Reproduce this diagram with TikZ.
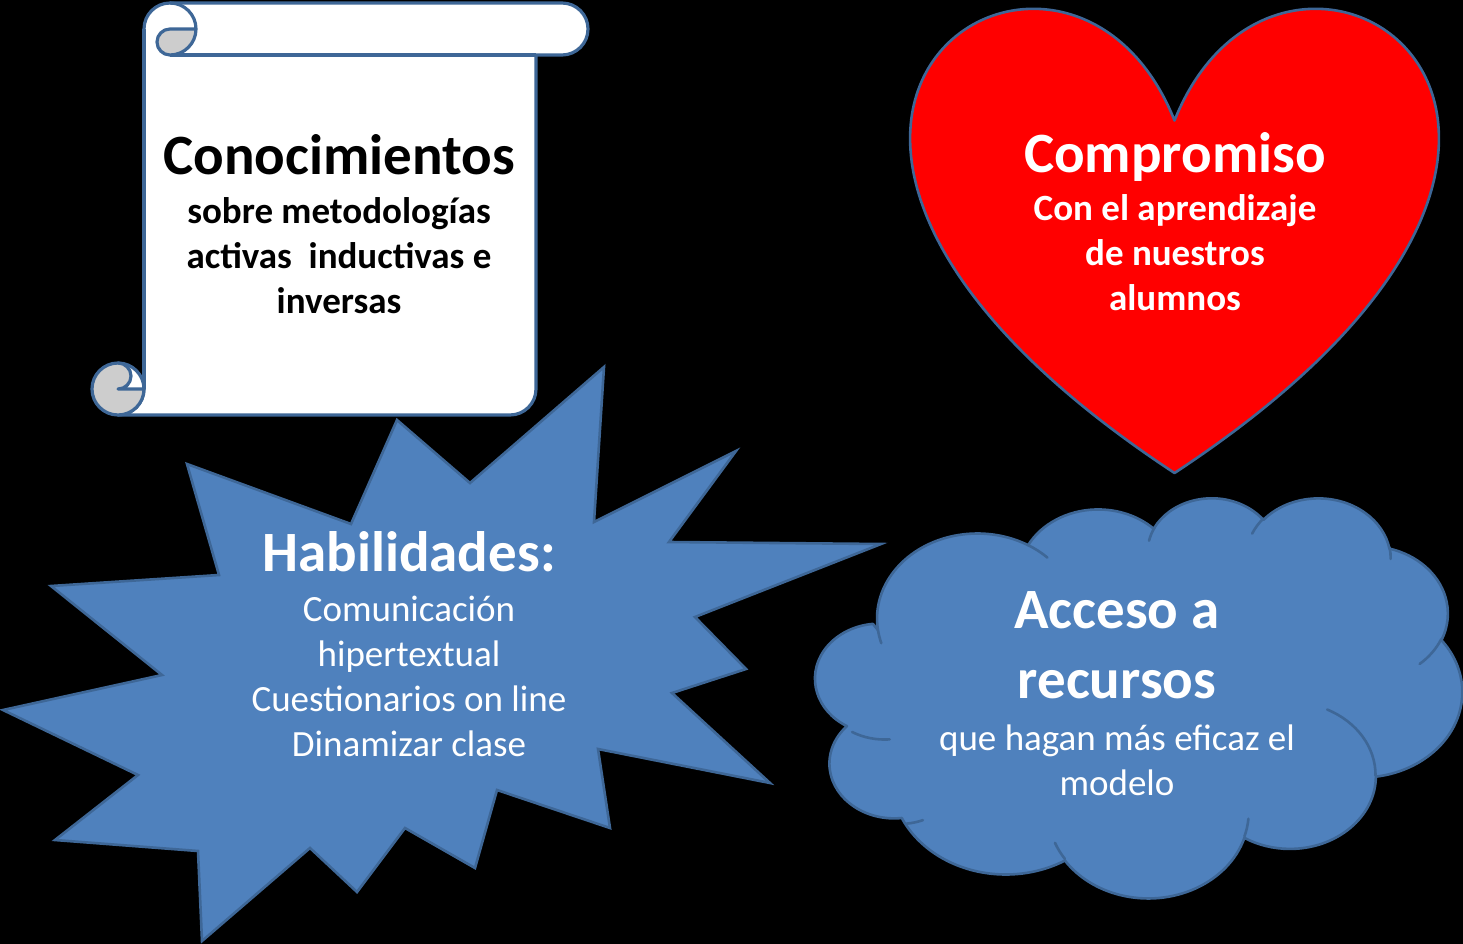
\documentclass[tikz,border=0pt]{standalone}
\usepackage{fontspec}
\setmainfont{Carlito}
\definecolor{edgeblue}{HTML}{3E6797}
\definecolor{sealblue}{HTML}{4F81BD}
\definecolor{curlgrey}{HTML}{CDCDCD}
\definecolor{heartred}{HTML}{FF0000}
\newcommand\cldcalc[5]{%
  \pgfmathsetmacro\cldTmpA{atan2((#2)*sin(#4),(#3)*cos(#4))}%
  \pgfmathsetmacro\cldTmpB{atan2((#2)*sin((#4)+(#5)),(#3)*cos((#4)+(#5)))}%
  \pgfmathsetmacro\cldTmpD{\cldTmpB-\cldTmpA}%
  \pgfmathsetmacro\cldTmpD{\cldTmpD+360*(\cldTmpD<0)}%
  \expandafter\xdef\csname cld#1s\endcsname{\cldTmpA}%
  \expandafter\xdef\csname cld#1d\endcsname{\cldTmpD}%
}
\begin{document}
\begin{tikzpicture}[x=1pt,y=-1pt,
  scrollst/.style={fill=white, draw=edgeblue, line width=3.2pt, line join=round},
  scrollln/.style={draw=edgeblue, line width=3.2pt, line join=round},
  heartst/.style={fill=heartred, draw=edgeblue, line width=2.6pt, line join=round},
  sealst/.style={fill=sealblue, draw=edgeblue, line width=2.6pt, line join=miter},
  cloudst/.style={fill=sealblue, draw=edgeblue, line width=2.6pt, line join=round},
  cloudln/.style={draw=edgeblue, line width=2.6pt, line cap=round},
  hdr/.style={anchor=base, inner sep=0pt, font=\fontsize{57}{68}\selectfont\bfseries},
  subb/.style={anchor=base, inner sep=0pt, font=\fontsize{37}{45}\selectfont\bfseries},
  subr/.style={anchor=base, inner sep=0pt, font=\fontsize{37}{45}\selectfont}]
\fill[black] (0,0) rectangle (1463,944);
\useasboundingbox (0,0) rectangle (1463,944);

% ---------------- scroll ----------------
\path[scrollst] (144,389) -- (144,29) arc[start angle=180,end angle=270,radius=26]
  -- (562,3) arc[start angle=270,end angle=450,radius=26] -- (536,55) -- (536,389)
  arc[start angle=0,end angle=90,radius=26] -- (118,415)
  arc[start angle=90,end angle=0,radius=26] -- cycle;
\draw[scrollln] (170,55) -- (536,55);
% top-left curl
\fill[curlgrey] (196,29) arc[start angle=0,end angle=90,radius=26]
  arc[start angle=90,end angle=270,radius=13] -- cycle;
\draw[scrollln] (170,3) arc[start angle=270,end angle=450,radius=26]
  arc[start angle=90,end angle=270,radius=13] -- (196,29);
% bottom-left curl
\fill[curlgrey] (118,389) circle[radius=26];
\fill[white] (118,389) -- (118,363) arc[start angle=270,end angle=360,radius=26] -- cycle;
\fill[curlgrey] (118,363) arc[start angle=270,end angle=450,radius=13] -- cycle;
\draw[scrollln] (118,389) circle[radius=26];
\draw[scrollln] (118,363) arc[start angle=270,end angle=450,radius=13] -- (144,389);
\draw[scrollln] (144,29) -- (144,389);

\node[hdr, text=black] (s1) at (339,175) {Conocimientos};
\node[subb, text=black] (s2) at (339,223) {sobre metodologías};
\node[subb, text=black] (s3) at (339,268) {activas\ \ inductivas e};
\node[subb, text=black] (s4) at (339,313) {inversas};

% ---------------- heart ----------------
\path[heartst] (1174.5,120.5) .. controls (1283.9,-153.7) and (1710.4,120.5) .. (1174.5,473)
  .. controls (638.6,120.5) and (1065.1,-153.7) .. (1174.5,120.5) -- cycle;
\node[hdr, text=white] (h1) at (1175,172) {Compromiso};
\node[subb, text=white] (h2) at (1175,220) {Con el aprendizaje};
\node[subb, text=white] (h3) at (1175,265) {de nuestros};
\node[subb, text=white] (h4) at (1175,310) {alumnos};

% ---------------- explosion ----------------
\path[sealst] (604,367) -- (594,522) -- (736,451) -- (669,542) -- (881,544) -- (695,617)
  -- (746,669) -- (672,693) -- (770,783) -- (598,749) -- (610,828) -- (497,790)
  -- (475,868) -- (405,828) -- (357,892) -- (310,848) -- (202,941) -- (198,851)
  -- (55,840) -- (138,775) -- (3,710) -- (162,675) -- (51,586) -- (219,575)
  -- (187,464) -- (351,524) -- (397,420) -- (470,483) -- cycle;
\node[hdr, text=white] (e1) at (409,571) {Habilidades:};
\node[subr, text=white] (e2) at (409,621) {Comunicación};
\node[subr, text=white] (e3) at (409,666) {hipertextual};
\node[subr, text=white] (e4) at (409,711) {Cuestionarios on line};
\node[subr, text=white] (e5) at (409,756) {Dinamizar clase};

% ---------------- cloud ----------------
\cldcalc{A}{67.53}{91.90}{-190.48748}{123.78053}
\cldcalc{B}{53.33}{72.67}{-144.10238}{89.94523}
\cldcalc{C}{43.65}{59.45}{-145.80792}{99.72302}
\cldcalc{D}{48.57}{65.95}{-130.98607}{117.24173}
\cldcalc{E}{53.33}{72.73}{-78.70888}{109.02692}
\cldcalc{F}{67.75}{92.20}{-46.26725}{130.269}
\cldcalc{G}{57.85}{78.67}{0.62502}{114.03333}
\cldcalc{H}{67.52}{92.15}{22.4516}{115.17255}
\cldcalc{I}{77.20}{105.43}{66.24263}{81.37443}
\cldcalc{J}{43.60}{59.18}{-274.94208}{146.73557}
\cldcalc{K}{43.45}{59.45}{-246.8285}{152.51885}
\cldcalc{a}{43.45}{59.45}{86.742}{26.4295}
\cldcalc{b}{43.60}{59.18}{73.61047}{11.44747}
\cldcalc{c}{67.52}{92.15}{137.62415}{14.0811}
\cldcalc{d}{67.52}{92.15}{6.45327}{15.99835}
\cldcalc{e}{57.85}{78.67}{-70.29235}{70.91737}
\cldcalc{f}{53.33}{72.73}{30.31803}{27.7515}
\cldcalc{g}{48.57}{65.95}{-13.74433}{14.8589}
\cldcalc{h}{48.57}{65.95}{-149.18145}{18.19537}
\cldcalc{i}{43.65}{59.45}{-163.49427}{17.68635}
\cldcalc{j}{67.53}{91.90}{-66.70695}{12.31935}
\cldcalc{k}{67.53}{91.90}{157.65435}{11.85817}
\begin{scope}[shift={(820pt,-497pt)}, x=1.48611pt, y=-0.925926pt]
\path[cloudst] (39.00,143.70)
  arc[start angle=\cldAs, delta angle=\cldAd, x radius=67.53, y radius=91.90]
  arc[start angle=\cldBs, delta angle=\cldBd, x radius=53.33, y radius=72.67]
  arc[start angle=\cldCs, delta angle=\cldCd, x radius=43.65, y radius=59.45]
  arc[start angle=\cldDs, delta angle=\cldDd, x radius=48.57, y radius=65.95]
  arc[start angle=\cldEs, delta angle=\cldEd, x radius=53.33, y radius=72.73]
  arc[start angle=\cldFs, delta angle=\cldFd, x radius=67.75, y radius=92.20]
  arc[start angle=\cldGs, delta angle=\cldGd, x radius=57.85, y radius=78.67]
  arc[start angle=\cldHs, delta angle=\cldHd, x radius=67.52, y radius=92.15]
  arc[start angle=\cldIs, delta angle=\cldId, x radius=77.20, y radius=105.43]
  arc[start angle=\cldJs, delta angle=\cldJd, x radius=43.60, y radius=59.18]
  arc[start angle=\cldKs, delta angle=\cldKd, x radius=43.45, y radius=59.45]
  -- cycle;
\draw[cloudln]
  (46.93,261.77) arc[start angle=\cldas, delta angle=\cldad, x radius=43.45, y radius=59.45]
  (69.28,348.99) arc[start angle=\cldbs, delta angle=\cldbd, x radius=43.60, y radius=59.18]
  (164.78,390.90) arc[start angle=\cldcs, delta angle=\cldcd, x radius=67.52, y radius=92.15]
  (288.27,347.51) arc[start angle=\cldds, delta angle=\clddd, x radius=67.52, y radius=92.15]
  (341.29,229.54) arc[start angle=\cldes, delta angle=\clded, x radius=57.85, y radius=78.67]
  (417.98,153.54) arc[start angle=\cldfs, delta angle=\cldfd, x radius=53.33, y radius=72.73]
  (383.24,54.26) arc[start angle=\cldgs, delta angle=\cldgd, x radius=48.57, y radius=65.95]
  (290.78,39.52) arc[start angle=\cldhs, delta angle=\cldhd, x radius=48.57, y radius=65.95]
  (221.41,47.20) arc[start angle=\cldis, delta angle=\cldid, x radius=43.65, y radius=59.45]
  (140.00,51.92) arc[start angle=\cldjs, delta angle=\cldjd, x radius=67.53, y radius=91.90]
  (41.27,157.89) arc[start angle=\cldks, delta angle=\cldkd, x radius=67.53, y radius=91.90];
\end{scope}
\node[hdr, text=white] (c1) at (1117,628) {Acceso a};
\node[hdr, text=white] (c2) at (1117,698) {recursos};
\node[subr, text=white] (c3) at (1117,750) {que hagan más eficaz el};
\node[subr, text=white] (c4) at (1117,795) {modelo};
\end{tikzpicture}
\end{document}
